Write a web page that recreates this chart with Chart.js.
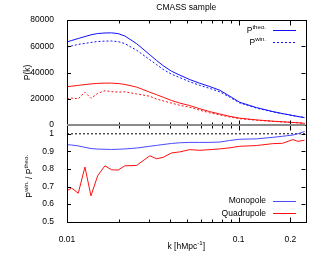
<!DOCTYPE html>
<html><head><meta charset="utf-8">
<script src="https://cdn.jsdelivr.net/npm/chart.js@4"></script>
<style>html,body{margin:0;padding:0;background:#fff}canvas{display:block}</style>
</head><body>
<canvas id="c" width="330" height="255"></canvas>
<script>
// ---- data ----
const K = [0.0100, 0.01065, 0.01163, 0.01272, 0.01379, 0.01508, 0.01664, 0.01819, 0.01988, 0.02174,
           0.02543, 0.03038, 0.03323, 0.0363, 0.04061, 0.04539, 0.0519, 0.05933, 0.06783, 0.07754,
           0.08867, 0.1014, 0.1267, 0.1583, 0.1803, 0.2069, 0.2212, 0.2419];
const P0_THEO = [63300,64400,65900,67400,68700,69700,70100,70200,69600,67800,
                 62000,53500,49200,45200,41000,38000,34600,31800,29300,26500,
                 22000,17300,13300,10200,8700,7200,6500,5600];
const P0_WIN  = [59400,60300,61400,62200,62900,63600,63900,64000,63500,62000,
                 57000,49700,46000,42400,38700,36100,32900,30200,27900,25300,
                 21200,16800,12900,10000,8600,7150,6500,5670];
const P2_THEO = [29200,29600,30200,30800,31300,31700,31900,31900,31600,30900,
                 28900,25000,23100,21200,18700,16700,14800,12400,10200,8400,
                 6600,5200,3900,2900,2450,1950,1700,1300];
const P2_WIN  = [19800,20500,20000,25000,20300,24100,26100,25400,25100,25300,
                 23700,21900,19800,18400,16700,15000,13500,11300,9300,7700,
                 6100,4800,3650,2750,2300,1900,1650,1250];
const R_MONO  = [0.938,0.936,0.931,0.923,0.916,0.913,0.912,0.911,0.912,0.914,
                 0.919,0.929,0.934,0.939,0.945,0.949,0.951,0.951,0.951,0.953,
                 0.962,0.969,0.971,0.980,0.986,0.993,1.000,1.013];
const R_QUAD  = [0.677,0.691,0.662,0.811,0.647,0.761,0.818,0.795,0.794,0.818,
                 0.820,0.875,0.858,0.866,0.891,0.897,0.910,0.906,0.910,0.914,
                 0.920,0.929,0.933,0.944,0.946,0.967,0.957,0.963];
const X_MIN = 0.01, X_MAX = 0.245;
const X_TICKS = [0.01, 0.1, 0.2];
const P_TICKS = [0, 20000, 40000, 60000, 80000];
const R_TICKS = [0.5, 0.6, 0.7, 0.8, 0.9, 1];
const UNITY = 1;

// ---- styling ----
const FONT = '"Liberation Sans", Arial, Helvetica, sans-serif';
const FS = 8.5;
const BLUE = '#1010ff', BLUE_R = '#4a4aff', RED = '#ff1010';

const pts = arr => K.map((k, i) => ({x: k, y: arr[i]}));
const ln = (data, color, axis, dash) => ({
  data, yAxisID: axis, borderColor: color, borderWidth: 1, pointRadius: 0,
  borderDash: dash || [], tension: 0, fill: false
});

function supText(ctx, parts, x, y, align) {
  const norm = FS + 'px ' + FONT, sup = (FS * 0.72) + 'px ' + FONT;
  let w = 0;
  parts.forEach(([t, s]) => { ctx.font = s ? sup : norm; w += ctx.measureText(t).width; });
  let cx = align === 'right' ? x - w : (align === 'center' ? x - w / 2 : x);
  ctx.textAlign = 'left'; ctx.textBaseline = 'middle';
  parts.forEach(([t, s]) => {
    ctx.font = s ? sup : norm;
    ctx.fillText(t, cx, s ? y - FS * 0.38 : y);
    cx += ctx.measureText(t).width;
  });
}

const decor = {
  id: 'decor',
  afterDraw(chart) {
    const {ctx, chartArea: {left: L, right: R}} = chart;
    const x = chart.scales.x, yP = chart.scales.yP, yR = chart.scales.yR;
    const h = v => Math.round(v) + 0.5;
    ctx.save();
    ctx.strokeStyle = '#000'; ctx.lineWidth = 1;
    [[yP.top, yP.bottom], [yR.top, yR.bottom]].forEach(([t, b]) => {
      ctx.strokeRect(h(L), h(t), Math.round(R) - Math.round(L), Math.round(b) - Math.round(t));
    });
    ctx.beginPath();
    [0.01, 0.1].forEach(d => {
      for (let m = 1; m <= 9; m++) {
        const v = m * d;
        if (v < X_MIN - 1e-9 || v > X_MAX) continue;
        const major = X_TICKS.some(t => Math.abs(t - v) < 1e-9);
        const len = major ? 5 : 3;
        const xx = h(x.getPixelForValue(v));
        [[yP.top, 1], [yP.bottom, -1], [yR.top, 1], [yR.bottom, -1]].forEach(([y0, dir]) => {
          ctx.moveTo(xx, Math.round(y0) + 0.5); ctx.lineTo(xx, Math.round(y0) + 0.5 + dir * len);
        });
      }
    });
    P_TICKS.forEach(v => { const yy = h(yP.getPixelForValue(v));
      ctx.moveTo(L, yy); ctx.lineTo(L + 4, yy); ctx.moveTo(R, yy); ctx.lineTo(R - 4, yy); });
    R_TICKS.forEach(v => { const yy = h(yR.getPixelForValue(v));
      ctx.moveTo(L, yy); ctx.lineTo(L + 4, yy); ctx.moveTo(R, yy); ctx.lineTo(R - 4, yy); });
    ctx.stroke();
    // zero line of the upper panel
    const y0 = Math.round(yP.getPixelForValue(0));
    ctx.strokeStyle = '#8a8a8a'; ctx.lineWidth = 2;
    ctx.beginPath(); ctx.moveTo(L, y0); ctx.lineTo(R, y0); ctx.stroke();

    // legends
    ctx.fillStyle = '#000';
    const tx = 266, lx1 = 273, lx2 = 296;
    const legLine = (y, color, dash) => {
      ctx.strokeStyle = color; ctx.lineWidth = 1; ctx.setLineDash(dash || []);
      ctx.beginPath(); ctx.moveTo(lx1, h(y)); ctx.lineTo(lx2, h(y)); ctx.stroke(); ctx.setLineDash([]);
    };
    const r1 = yP.top + 9.5, r2 = yP.top + 22;
    supText(ctx, [['P', false], ['theo.', true]], tx, r1 + 1, 'right'); legLine(r1, BLUE);
    supText(ctx, [['P', false], ['win.', true]], tx, r2 + 1, 'right'); legLine(r2, BLUE, [2, 2]);
    const r3 = yR.bottom - 21, r4 = yR.bottom - 8.5;
    supText(ctx, [['Monopole', false]], tx, r3, 'right'); legLine(r3, BLUE_R);
    supText(ctx, [['Quadrupole', false]], tx, r4, 'right'); legLine(r4, RED);

    // ratio axis title (rotated)
    ctx.save();
    ctx.translate(30, (yR.top + yR.bottom) / 2 + 3);
    ctx.rotate(-Math.PI / 2);
    supText(ctx, [['P', false], ['win.', true], [' / P', false], ['theo.', true]], 0, 0, 'center');
    ctx.restore();

    // x axis title
    supText(ctx, [['k [hMpc', false], ['-1', true], [']', false]], (L + R) / 2, 247, 'center');
    ctx.restore();
  }
};

const tickFont = {family: FONT, size: FS};
new Chart(document.getElementById('c'), {
  type: 'line',
  data: {
    datasets: [
      ln(pts(P0_THEO), BLUE, 'yP'),
      ln(pts(P0_WIN), BLUE, 'yP', [2, 2]),
      ln(pts(P2_THEO), RED, 'yP'),
      ln(pts(P2_WIN), RED, 'yP', [2, 2]),
      ln(pts(R_MONO), BLUE_R, 'yR'),
      ln(pts(R_QUAD), RED, 'yR'),
      ln([{x: X_MIN, y: UNITY}, {x: X_MAX, y: UNITY}], '#000', 'yR', [2, 2])
    ]
  },
  options: {
    responsive: false, animation: false, devicePixelRatio: 1,
    layout: {padding: {top: 0, left: 0, right: 24.5, bottom: 0}},
    plugins: {
      legend: {display: false}, tooltip: {enabled: false},
      title: {display: true, text: 'CMASS sample', fullSize: false, color: '#000',
              font: {family: FONT, size: FS, weight: 'normal'}, padding: {top: 3, bottom: 6.8}}
    },
    scales: {
      x: {
        type: 'logarithmic', min: X_MIN, max: X_MAX,
        grid: {display: false}, border: {display: false},
        afterBuildTicks: s => { s.ticks = X_TICKS.map(v => ({value: v})); },
        ticks: {autoSkip: false, maxRotation: 0, padding: 5, color: '#000', font: tickFont,
                callback: v => String(v)},
        afterFit: s => { s.height = 33.3; }
      },
      yR: {
        type: 'linear', position: 'left', stack: 'v', stackWeight: 96.7, weight: 0,
        min: 0.5, max: 1.05,
        grid: {display: false}, border: {display: false},
        afterBuildTicks: s => { s.ticks = R_TICKS.map(v => ({value: v})); },
        ticks: {autoSkip: false, padding: 5, color: '#000', font: tickFont,
                callback: v => String(Math.round(v * 10) / 10)},
        afterFit: s => { s.width = 67; }
      },
      yP: {
        type: 'linear', position: 'left', stack: 'v', stackWeight: 105, weight: 1,
        min: 0, max: 80000,
        grid: {display: false}, border: {display: false},
        afterBuildTicks: s => { s.ticks = P_TICKS.map(v => ({value: v})); },
        ticks: {autoSkip: false, padding: 5, color: '#000', font: tickFont,
                callback: v => String(v)},
        title: {display: true, text: 'P(k)', color: '#000', font: tickFont, padding: {top: 23, bottom: 0}},
        afterFit: s => { s.width = 67; }
      }
    }
  },
  plugins: [decor]
});
</script>
</body></html>
